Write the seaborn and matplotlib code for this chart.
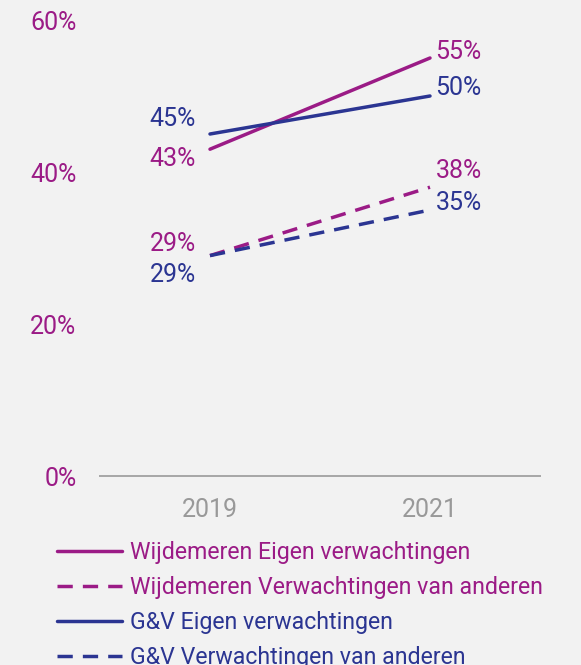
import pandas as pd
import matplotlib
matplotlib.use("Agg")
import matplotlib.pyplot as plt
import seaborn as sns
from matplotlib.lines import Line2D
from matplotlib.ticker import FuncFormatter

YEARS = ["2019", "2021"]
WIJ_EIGEN = [43, 55]
WIJ_ANDEREN = [29, 38]
GV_EIGEN = [45, 50]
GV_ANDEREN = [29, 35]
SERIES = [
    "Wijdemeren Eigen verwachtingen",
    "Wijdemeren Verwachtingen van anderen",
    "G&V Eigen verwachtingen",
    "G&V Verwachtingen van anderen",
]

PURPLE = "#9b1b86"
BLUE = "#2b3592"
BG = "#f2f2f2"

sns.set_theme(style="white")
plt.rcParams["font.family"] = ["Roboto", "DejaVu Sans"]

rows = []
for name, vals in zip(SERIES, [WIJ_EIGEN, WIJ_ANDEREN, GV_EIGEN, GV_ANDEREN]):
    for yr, v in zip(YEARS, vals):
        rows.append({"year": yr, "value": v, "series": name})
df = pd.DataFrame(rows)

colors = {SERIES[0]: PURPLE, SERIES[1]: PURPLE, SERIES[2]: BLUE, SERIES[3]: BLUE}
dash_style = (4.4, 2.9)
dashes = {SERIES[0]: "", SERIES[1]: dash_style, SERIES[2]: "", SERIES[3]: dash_style}
LW = 2.5

fig = plt.figure(figsize=(5.81, 6.65), dpi=100)
fig.patch.set_facecolor(BG)
ax = fig.add_axes([100 / 581, 189 / 665, 440 / 581, 456 / 665])
ax.set_facecolor(BG)

sns.lineplot(data=df, x="year", y="value", hue="series", style="series",
             palette=colors, dashes=dashes, linewidth=LW, ax=ax,
             legend=False, sort=False)

ax.set_xlim(-0.5, 1.5)
ax.set_ylim(0, 60)
ax.set_yticks([0, 20, 40, 60])
ax.yaxis.set_major_formatter(FuncFormatter(lambda v, p: f"{v:.0f}%"))
ax.tick_params(axis="y", labelsize=18, labelcolor=PURPLE, length=0, pad=17)
ax.tick_params(axis="x", labelsize=18, labelcolor="#999999", length=0, pad=16)
ax.set_xlabel("")
ax.set_ylabel("")
for s in ["top", "right", "left"]:
    ax.spines[s].set_visible(False)
ax.spines["bottom"].set_color("#a6a6a6")
ax.spines["bottom"].set_linewidth(1.4)

# value labels (offsets in points to avoid overlap)
label_offsets = {
    SERIES[0]: (7, -4),
    SERIES[1]: (-8, -12),
    SERIES[2]: (-11, -6),
    SERIES[3]: (14, -5),
}
for name, vals, col in zip(SERIES, [WIJ_EIGEN, WIJ_ANDEREN, GV_EIGEN, GV_ANDEREN],
                           [PURPLE, PURPLE, BLUE, BLUE]):
    off0, off1 = label_offsets[name]
    ax.annotate(f"{vals[0]}%", (0, vals[0]), xytext=(-10, -off0), textcoords="offset points",
                ha="right", va="center", fontsize=18, color=col)
    ax.annotate(f"{vals[1]}%", (1, vals[1]), xytext=(4, -off1), textcoords="offset points",
                ha="left", va="center", fontsize=18, color=col)

handles = [
    Line2D([], [], color=PURPLE, lw=LW),
    Line2D([], [], color=PURPLE, lw=LW, dashes=dash_style),
    Line2D([], [], color=BLUE, lw=LW),
    Line2D([], [], color=BLUE, lw=LW, dashes=dash_style),
]
leg = fig.legend(handles, SERIES, loc="upper left", bbox_to_anchor=(57 / 581, 1 - 541 / 665),
                 frameon=False, fontsize=16.7, handlelength=2.8, handletextpad=0.35,
                 labelspacing=0.52, borderaxespad=0, borderpad=0,
                 labelcolor=[PURPLE, PURPLE, BLUE, BLUE])

fig.savefig("out.png", dpi=100, facecolor=BG)
